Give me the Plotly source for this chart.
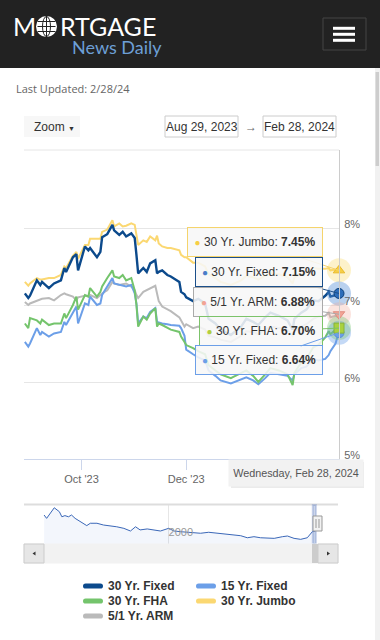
import plotly.graph_objects as go

# ---------------- data ----------------
dates = [
    "2023-08-29", "2023-08-31", "2023-09-01", "2023-09-05", "2023-09-07", "2023-09-08", "2023-09-12", "2023-09-15", "2023-09-19", "2023-09-21",
    "2023-09-22", "2023-09-26", "2023-09-28", "2023-09-29", "2023-10-03", "2023-10-05", "2023-10-06", "2023-10-10", "2023-10-12", "2023-10-13",
    "2023-10-16", "2023-10-19", "2023-10-20", "2023-10-23", "2023-10-25", "2023-10-27", "2023-10-30", "2023-11-01", "2023-11-02", "2023-11-03",
    "2023-11-06", "2023-11-08", "2023-11-10", "2023-11-13", "2023-11-14", "2023-11-15", "2023-11-17", "2023-11-20", "2023-11-22", "2023-11-27",
    "2023-11-28", "2023-11-30", "2023-12-01", "2023-12-05", "2023-12-08", "2023-12-12", "2023-12-14", "2023-12-18", "2023-12-21", "2023-12-27",
    "2024-01-02", "2024-01-05", "2024-01-09", "2024-01-12", "2024-01-16", "2024-01-19", "2024-01-24", "2024-01-29", "2024-02-01", "2024-02-02",
    "2024-02-06", "2024-02-09", "2024-02-13", "2024-02-16", "2024-02-20", "2024-02-22", "2024-02-23", "2024-02-26", "2024-02-27", "2024-02-28",
]

fixed30 = [
    7.15, 7.09, 7.12, 7.32, 7.26, 7.30, 7.22, 7.28, 7.32, 7.48,
    7.43, 7.62, 7.66, 7.45, 7.76, 7.71, 7.74, 7.62, 7.69, 7.88,
    7.92, 8.04, 7.97, 7.91, 7.95, 7.89, 7.93, 7.87, 7.65, 7.41,
    7.48, 7.43, 7.54, 7.58, 7.41, 7.43, 7.45, 7.39, 7.37, 7.30,
    7.17, 7.14, 7.10, 7.05, 7.08, 7.02, 6.82, 6.76, 6.68, 6.61,
    6.72, 6.82, 6.78, 6.74, 6.84, 6.90, 6.86, 6.80, 6.68, 6.82,
    6.90, 6.94, 7.06, 7.05, 7.12, 7.17, 7.11, 7.13, 7.12, 7.15,
]

jumbo30 = [
    7.30, 7.25, 7.28, 7.35, 7.33, 7.33, 7.35, 7.35, 7.39, 7.50,
    7.48, 7.64, 7.69, 7.60, 7.78, 7.78, 7.86, 7.86, 7.86, 7.95,
    7.98, 8.10, 8.02, 8.06, 8.02, 8.03, 8.06, 8.04, 7.93, 7.78,
    7.84, 7.82, 7.89, 7.84, 7.90, 7.80, 7.76, 7.74, 7.74, 7.71,
    7.65, 7.62, 7.62, 7.55, 7.55, 7.50, 7.40, 7.35, 7.30, 7.26,
    7.32, 7.38, 7.36, 7.33, 7.38, 7.42, 7.40, 7.36, 7.28, 7.36,
    7.40, 7.42, 7.48, 7.47, 7.47, 7.48, 7.45, 7.46, 7.45, 7.45,
]

arm51 = [
    7.04, 7.00, 7.02, 7.06, 7.07, 7.08, 7.09, 7.06, 7.13, 7.15,
    7.14, 7.11, 7.06, 7.10, 7.12, 7.11, 7.13, 7.09, 7.13, 7.15,
    7.19, 7.30, 7.28, 7.26, 7.27, 7.28, 7.24, 7.19, 7.13, 7.09,
    7.17, 7.19, 7.22, 7.25, 7.15, 7.05, 6.98, 6.95, 6.92, 6.84,
    6.80, 6.72, 6.75, 6.70, 6.72, 6.68, 6.60, 6.58, 6.55, 6.52,
    6.60, 6.66, 6.65, 6.62, 6.68, 6.72, 6.70, 6.68, 6.60, 6.66,
    6.72, 6.75, 6.82, 6.85, 6.86, 6.90, 6.84, 6.86, 6.85, 6.88,
]

fha30 = [
    6.76, 6.70, 6.83, 6.80, 6.76, 6.81, 6.74, 6.76, 6.76, 6.89,
    6.83, 7.00, 7.11, 6.94, 7.13, 7.11, 7.22, 7.11, 7.17, 7.24,
    7.35, 7.45, 7.37, 7.35, 7.39, 7.32, 7.35, 7.19, 7.00, 6.72,
    6.85, 6.81, 6.89, 6.96, 6.72, 6.76, 6.74, 6.70, 6.68, 6.65,
    6.59, 6.52, 6.48, 6.44, 6.40, 6.36, 6.22, 6.15, 6.10, 6.05,
    6.12, 6.15, 6.08, 6.00, 6.10, 6.18, 6.15, 6.10, 5.96, 6.12,
    6.25, 6.30, 6.45, 6.48, 6.58, 6.66, 6.62, 6.68, 6.66, 6.70,
]

fixed15 = [
    6.52, 6.46, 6.50, 6.70, 6.61, 6.65, 6.59, 6.63, 6.65, 6.78,
    6.74, 6.89, 6.98, 6.76, 7.02, 7.00, 7.11, 7.00, 7.02, 7.13,
    7.24, 7.35, 7.28, 7.26, 7.25, 7.24, 7.26, 7.15, 7.02, 6.76,
    6.85, 6.83, 6.91, 6.96, 6.78, 6.77, 6.76, 6.75, 6.74, 6.73,
    6.70, 6.60, 6.42, 6.36, 6.32, 6.28, 6.15, 6.08, 6.02, 5.98,
    6.04, 6.06, 6.02, 5.97, 6.05, 6.12, 6.10, 6.08, 6.02, 6.10,
    6.18, 6.20, 6.30, 6.28, 6.30, 6.35, 6.40, 6.50, 6.58, 6.64,
]

nav_dates = [
    "1979-08", "1980-01", "1981-04", "1982-02", "1982-07", "1983-01", "1983-08", "1984-02", "1984-09", "1985-07",
    "1986-08", "1987-03", "1988-04", "1989-05", "1990-06", "1991-07", "1992-09", "1993-10", "1994-08", "1995-05",
    "1996-07", "1997-08", "1998-09", "2000-01", "2000-12", "2002-01", "2003-02", "2004-03", "2005-04", "2006-08",
    "2008-01", "2009-05", "2010-10", "2011-11", "2012-12", "2014-01", "2015-02", "2016-04", "2017-05", "2018-09",
    "2019-07", "2020-08", "2021-09", "2022-10", "2023-08", "2024-02",
]
nav_rates = [
    15.3, 13.6, 19.0, 17.0, 14.4, 15.0, 14.4, 15.3, 13.6, 11.9,
    9.9, 11.1, 11.1, 10.2, 9.9, 9.3, 8.5, 7.15, 9.3, 7.7,
    8.2, 7.7, 7.15, 8.5, 7.15, 6.8, 6.5, 6.5, 6.0, 6.5,
    6.0, 5.5, 4.75, 4.75, 3.7, 4.25, 3.7, 3.7, 3.4, 4.25,
    4.6, 3.4, 2.9, 3.7, 6.8, 7.15,
]

x_tick_vals = ["2023-10-01", "2023-12-01"]
x_tick_text = ["Oct '23", "Dec '23"]
y_tick_vals = [5, 6, 7, 8]
y_tick_text = ["5%", "6%", "7%", "8%"]
nav_tick_vals = ["2000-01-01"]
nav_tick_text = ["2000"]

names = ["30 Yr. Fixed", "15 Yr. Fixed", "30 Yr. FHA", "30 Yr. Jumbo", "5/1 Yr. ARM"]
line_colors = {"30 Yr. Fixed": "#0c4a8c", "15 Yr. Fixed": "#6c9fe8", "30 Yr. FHA": "#74c46c",
               "30 Yr. Jumbo": "#fbd872", "5/1 Yr. ARM": "#bababa"}
line_widths = {"30 Yr. Fixed": 2.4, "15 Yr. Fixed": 2, "30 Yr. FHA": 2, "30 Yr. Jumbo": 2, "5/1 Yr. ARM": 2}
series = {"30 Yr. Fixed": fixed30, "15 Yr. Fixed": fixed15, "30 Yr. FHA": fha30,
          "30 Yr. Jumbo": jumbo30, "5/1 Yr. ARM": arm51}

# ---------------- geometry helpers (page chrome only) ----------------
W, H = 380, 640
ML, MR, MT, MB = 24, 41, 150, 96
PW, PH = W - ML - MR, H - MT - MB


def PX(x):
    return (x - ML) / PW


def PY(y):
    return (H - MB - y) / PH


FONT = "Liberation Sans, Arial, sans-serif"

fig = go.Figure()

# main series (drawn so the navy line sits on top)
for nm in ["5/1 Yr. ARM", "30 Yr. Jumbo", "15 Yr. Fixed", "30 Yr. FHA", "30 Yr. Fixed"]:
    fig.add_trace(go.Scatter(x=dates, y=series[nm], mode="lines", name=nm,
                             line=dict(color=line_colors[nm], width=line_widths[nm]),
                             hoverinfo="skip", showlegend=False))

# hover markers with halos at the last point
marker_specs = [
    ("30 Yr. Jumbo", "triangle-up", "#f6cf45", "#e8b92a", "rgba(247,212,80,0.30)"),
    ("30 Yr. Fixed", "circle", "#2c6cb9", "#0c3f78", "rgba(80,140,215,0.40)"),
    ("5/1 Yr. ARM", "triangle-down", "#f2a495", "#e08d80", "rgba(242,164,149,0.30)"),
    ("15 Yr. Fixed", "circle", "#6c9fe8", "#5a8fd8", "rgba(108,159,232,0.40)"),
    ("30 Yr. FHA", "square", "#a9d13f", "#86b43a", "rgba(116,196,108,0.35)"),
]
for nm, sym, fill, edge, halo in marker_specs:
    vals = series[nm]
    fig.add_trace(go.Scatter(x=[dates[-1]], y=[vals[-1]], mode="markers", showlegend=False,
                             hoverinfo="skip", cliponaxis=False,
                             marker=dict(symbol="circle", size=24, color=halo, line=dict(width=0))))
for nm, sym, fill, edge, halo in marker_specs:
    vals = series[nm]
    fig.add_trace(go.Scatter(x=[dates[-1]], y=[vals[-1]], mode="markers", showlegend=False,
                             hoverinfo="skip", cliponaxis=False,
                             marker=dict(symbol=sym, size=10, color=fill, line=dict(width=1, color=edge))))

# navigator series
fig.add_trace(go.Scatter(x=nav_dates, y=nav_rates, mode="lines", xaxis="x2", yaxis="y2",
                         line=dict(color="#3a67b8", width=1), fill="tozeroy",
                         fillcolor="rgba(51,102,204,0.06)", hoverinfo="skip", showlegend=False))

shapes = []
annotations = []

# ---- header ----
shapes.append(dict(type="rect", xref="paper", yref="paper", x0=PX(0), x1=PX(380), y0=PY(0), y1=PY(68),
                   fillcolor="#222222", line=dict(width=0), layer="below"))
# globe
shapes.append(dict(type="circle", xref="paper", yref="paper", x0=PX(36), x1=PX(57), y0=PY(16), y1=PY(37),
                   fillcolor="#ffffff", line=dict(width=0)))
shapes.append(dict(type="circle", xref="paper", yref="paper", x0=PX(42.5), x1=PX(50.5), y0=PY(16.5), y1=PY(36.5),
                   line=dict(color="#222222", width=1)))
for gy in [21.5, 26.5, 31.5]:
    shapes.append(dict(type="line", xref="paper", yref="paper", x0=PX(37.5), x1=PX(55.5), y0=PY(gy), y1=PY(gy),
                       line=dict(color="#222222", width=1)))
shapes.append(dict(type="line", xref="paper", yref="paper", x0=PX(46.5), x1=PX(46.5), y0=PY(16), y1=PY(37),
                   line=dict(color="#222222", width=1)))
annotations.append(dict(xref="paper", yref="paper", x=PX(11), y=PY(26), xanchor="left", yanchor="middle",
                        text="M", showarrow=False,
                        font=dict(family="Lato, sans-serif", size=25, color="#ffffff")))
annotations.append(dict(xref="paper", yref="paper", x=PX(57.5), y=PY(26), xanchor="left", yanchor="middle",
                        text="RTGAGE", showarrow=False,
                        font=dict(family="Lato, sans-serif", size=25, color="#ffffff")))
annotations.append(dict(xref="paper", yref="paper", x=PX(164), y=PY(47), xanchor="right", yanchor="middle",
                        text="News Daily", showarrow=False,
                        font=dict(family="Lato, sans-serif", size=18, color="#6d9fd6")))
# hamburger
shapes.append(dict(type="rect", xref="paper", yref="paper", x0=PX(323), x1=PX(366), y0=PY(18), y1=PY(50),
                   fillcolor="#222222", line=dict(color="#444444", width=1)))
for hy in [28.3, 34.3, 40.3]:
    shapes.append(dict(type="line", xref="paper", yref="paper", x0=PX(333), x1=PX(355), y0=PY(hy), y1=PY(hy),
                       line=dict(color="#ffffff", width=3)))

# page scrollbar
shapes.append(dict(type="rect", xref="paper", yref="paper", x0=PX(375), x1=PX(380), y0=PY(68), y1=PY(640),
                   fillcolor="#f1f1f1", line=dict(width=0)))
shapes.append(dict(type="rect", xref="paper", yref="paper", x0=PX(375.5), x1=PX(379), y0=PY(72), y1=PY(166),
                   fillcolor="#cdcdcd", line=dict(width=0)))

annotations.append(dict(xref="paper", yref="paper", x=PX(14), y=PY(89), xanchor="left", yanchor="middle",
                        text="Last Updated: 2/28/24", showarrow=False,
                        font=dict(family="Open Sans, sans-serif", size=11, color="#666666")))

# ---- range selector / inputs ----
shapes.append(dict(type="rect", xref="paper", yref="paper", x0=PX(24), x1=PX(80), y0=PY(116), y1=PY(137),
                   fillcolor="#f7f7f7", line=dict(width=0)))
annotations.append(dict(xref="paper", yref="paper", x=PX(32), y=PY(127), xanchor="left", yanchor="middle",
                        text="Zoom <span style='font-size:7px'>▼</span>", showarrow=False,
                        font=dict(family=FONT, size=12, color="#333333")))
for bx0, bx1, txt in [(165, 238, "Aug 29, 2023"), (263, 336, "Feb 28, 2024")]:
    shapes.append(dict(type="rect", xref="paper", yref="paper", x0=PX(bx0), x1=PX(bx1), y0=PY(116), y1=PY(137),
                       fillcolor="#ffffff", line=dict(color="#cccccc", width=1)))
    annotations.append(dict(xref="paper", yref="paper", x=PX((bx0 + bx1) / 2), y=PY(126.5), xanchor="center",
                            yanchor="middle", text=txt, showarrow=False, font=dict(family=FONT, size=12, color="#333333")))
annotations.append(dict(xref="paper", yref="paper", x=PX(250.5), y=PY(127), xanchor="center", yanchor="middle",
                        text="→", showarrow=False, font=dict(family=FONT, size=12, color="#666666")))

# plot frame top line
shapes.append(dict(type="line", xref="paper", yref="paper", x0=0, x1=1, y0=1, y1=1,
                   line=dict(color="#e6e6e6", width=1)))

# ---- tooltips ----
tips = [
    ("30 Yr. Jumbo", "#f5d46c", "#f6cf45", 255, 242.5, 128),
    ("30 Yr. Fixed", "#1b4f8a", "#4a7dc9", 259, 272, 120),
    ("5/1 Yr. ARM", "#aaaaaa", "#f2a495", 258, 302, 122),
    ("30 Yr. FHA", "#7cc36a", "#b3cf3e", 261, 331.5, 116),
    ("15 Yr. Fixed", "#6c9fe8", "#6c9fe8", 259, 360.5, 120),
]
YMIN, YMAX = 5.0, 9.013
for nm, bcol, dot, cx, cy, wd in tips:
    v = series[nm][-1]
    py_pt = MT + (YMAX - v) / (YMAX - YMIN) * 309
    annotations.append(dict(
        x=dates[-1], y=v, xref="x", yref="y", axref="pixel", ayref="pixel",
        ax=cx - (ML + PW), ay=cy - py_pt, showarrow=True, arrowhead=0, arrowwidth=1,
        arrowcolor=bcol, standoff=0, startstandoff=0,
        text=f"<span style='color:{dot};font-size:10px'>●</span> {nm}: <b>{v:.2f}%</b>",
        font=dict(family=FONT, size=12, color="#333333"), align="center",
        bgcolor="rgba(247,247,247,0.88)", bordercolor=bcol, borderwidth=1, borderpad=3,
        width=wd, height=22))

# date label below axis
shapes.append(dict(type="rect", xref="paper", yref="paper", x0=PX(231), x1=PX(364), y0=PY(462), y1=PY(488),
                   fillcolor="rgba(0,0,0,0.08)", line=dict(width=0)))
annotations.append(dict(xref="paper", yref="paper", x=PX(296), y=PY(473), xanchor="center", yanchor="middle",
                        text="Wednesday, Feb 28, 2024", showarrow=False, bgcolor="#f2f2f2",
                        borderpad=4, width=126, height=18,
                        font=dict(family=FONT, size=10.8, color="#555555")))

# ---- navigator chrome ----
shapes.append(dict(type="line", xref="paper", yref="paper", x0=0, x1=PX(338), y0=PY(504.5), y1=PY(504.5),
                   line=dict(color="#dddddd", width=2)))
shapes.append(dict(type="rect", xref="x2", yref="y2 domain", x0="2023-08-29", x1="2024-02-28", y0=0, y1=1,
                   fillcolor="rgba(102,133,194,0.3)", line=dict(color="rgba(102,133,194,0.35)", width=2)))
# scrollbar
shapes.append(dict(type="rect", xref="paper", yref="paper", x0=0, x1=PX(338), y0=PY(544), y1=PY(563),
                   fillcolor="#f2f2f2", line=dict(color="#f2f2f2", width=1)))
shapes.append(dict(type="rect", xref="paper", yref="paper", x0=PX(312), x1=PX(318), y0=PY(544), y1=PY(563),
                   fillcolor="#cccccc", line=dict(width=0)))
for bx0, bx1 in [(24, 44), (318, 338)]:
    shapes.append(dict(type="rect", xref="paper", yref="paper", x0=PX(bx0), x1=PX(bx1), y0=PY(544), y1=PY(563),
                       fillcolor="#e6e6e6", line=dict(color="#cccccc", width=1)))
shapes.append(dict(type="path", xref="paper", yref="paper",
                   path=f"M {PX(35.5)},{PY(551.5)} L {PX(35.5)},{PY(555.5)} L {PX(32.5)},{PY(553.5)} Z",
                   fillcolor="#333333", line=dict(width=0)))
shapes.append(dict(type="path", xref="paper", yref="paper",
                   path=f"M {PX(327)},{PY(551.5)} L {PX(327)},{PY(555.5)} L {PX(330)},{PY(553.5)} Z",
                   fillcolor="#333333", line=dict(width=0)))
# handle
shapes.append(dict(type="rect", xref="paper", yref="paper", x0=PX(313), x1=PX(322), y0=PY(516), y1=PY(531),
                   fillcolor="#f2f2f2", line=dict(color="#999999", width=1)))
for hx in [316, 319]:
    shapes.append(dict(type="line", xref="paper", yref="paper", x0=PX(hx), x1=PX(hx), y0=PY(519), y1=PY(528),
                       line=dict(color="#999999", width=1)))

# ---- legend (manual, Highcharts style) ----
legend_pos = [("30 Yr. Fixed", 83, 586), ("15 Yr. Fixed", 196, 586), ("30 Yr. FHA", 83, 601),
              ("30 Yr. Jumbo", 196, 601), ("5/1 Yr. ARM", 83, 616)]
for nm, lx, ly in legend_pos:
    r = 2.6
    x0, x1, y0, y1 = lx, lx + 20, ly - r, ly + r
    path = (f"M {PX(x0 + r)},{PY(y0)} L {PX(x1 - r)},{PY(y0)} Q {PX(x1)},{PY(y0)} {PX(x1)},{PY(ly)} "
            f"Q {PX(x1)},{PY(y1)} {PX(x1 - r)},{PY(y1)} L {PX(x0 + r)},{PY(y1)} "
            f"Q {PX(x0)},{PY(y1)} {PX(x0)},{PY(ly)} Q {PX(x0)},{PY(y0)} {PX(x0 + r)},{PY(y0)} Z")
    shapes.append(dict(type="path", xref="paper", yref="paper", path=path,
                       fillcolor=line_colors[nm], line=dict(width=0)))
    annotations.append(dict(xref="paper", yref="paper", x=PX(lx + 23), y=PY(ly), xanchor="left", yanchor="middle",
                            text=f"<b>{nm}</b>", showarrow=False, font=dict(family=FONT, size=12, color="#333333")))

fig.update_layout(
    width=W, height=H,
    margin=dict(l=ML, r=MR, t=MT, b=MB, pad=0),
    paper_bgcolor="#ffffff", plot_bgcolor="#ffffff",
    font=dict(family=FONT, size=11, color="#666666"),
    hovermode=False, showlegend=False,
    xaxis=dict(type="date", range=["2023-08-28 12:00", "2024-02-28"], tickvals=x_tick_vals, ticktext=x_tick_text,
               ticks="outside", ticklen=10, tickcolor="#ccd6eb", showline=True, linecolor="#ccd6eb", linewidth=1,
               showgrid=False, zeroline=False, tickfont=dict(size=11, color="#666666"), anchor="y", fixedrange=True),
    yaxis=dict(domain=[PY(459), 1], range=[YMIN, YMAX], side="right", tickvals=y_tick_vals, ticktext=y_tick_text,
               showgrid=True, gridcolor="#e6e6e6", gridwidth=1, showline=True, linecolor="#cccccc", zeroline=False,
               ticks="", ticklabelstandoff=2, ticklabelshift=-4, tickfont=dict(size=11, color="#666666"),
               anchor="x", fixedrange=True),
    xaxis2=dict(type="date", range=["1976-04-15", "2027-12-15"], tickvals=nav_tick_vals, ticktext=nav_tick_text,
                showgrid=True, gridcolor="#e6e6e6", ticks="", showline=False, zeroline=False,
                ticklabelposition="inside right", tickfont=dict(size=11, color="#999999"),
                anchor="y2", fixedrange=True),
    yaxis2=dict(domain=[0, PY(505)], range=[0.52, 20.41], showticklabels=False, showgrid=False, zeroline=False,
                showline=False, anchor="x2", fixedrange=True),
    shapes=shapes, annotations=annotations,
)

fig.write_html("out.html", config={"displayModeBar": False, "staticPlot": True},
               post_script="document.body.style.margin='0';")
